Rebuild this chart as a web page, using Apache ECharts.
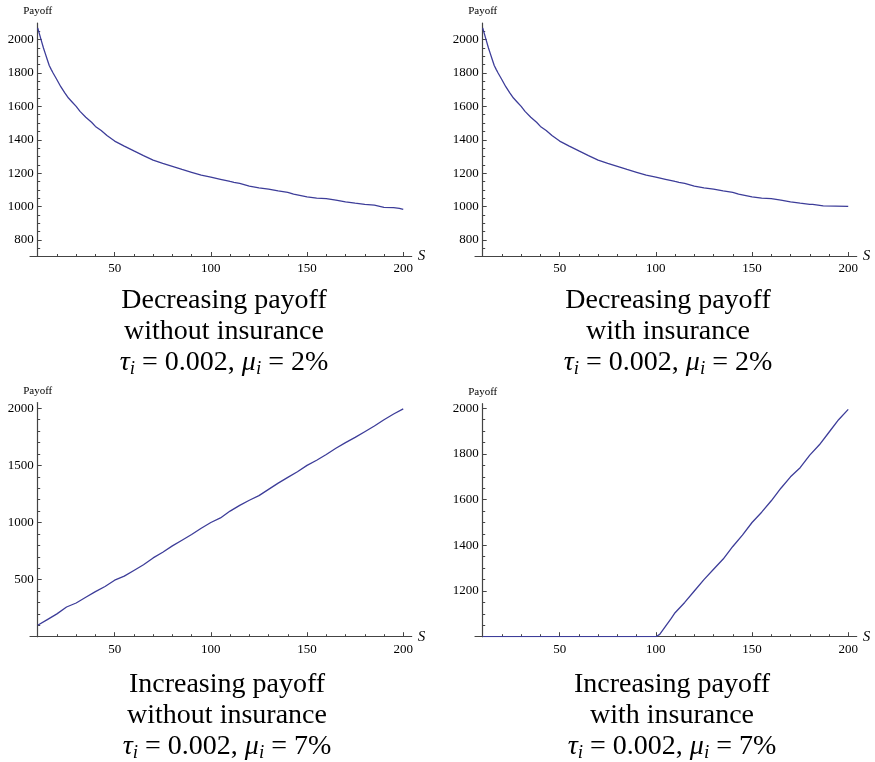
<!DOCTYPE html>
<html>
<head>
<meta charset="utf-8">
<script src="https://cdn.jsdelivr.net/npm/echarts@6/dist/echarts.min.js"></script>
<style>
html, body { margin: 0; padding: 0; background: #fff; }
#main { width: 875px; height: 762px; }
</style>
</head>
<body>
<div id="main"></div>
<script>
// 数据：S 与 Payoff
var decS = [10, 11, 12, 13, 14, 15, 16, 17, 18, 20, 22, 24, 26, 28, 30, 32, 35, 38, 40, 43, 46, 50, 55, 60, 65, 70, 75, 80, 85, 90, 95, 100, 105, 110, 112, 115, 120, 125, 130, 135, 140, 143, 150, 155, 160, 165, 170, 175, 180, 185, 190, 195, 198, 200];
var decPayNoIns = [2070, 2030, 1990, 1950, 1915, 1880, 1845, 1822, 1800, 1760, 1718, 1683, 1650, 1625, 1600, 1570, 1535, 1505, 1480, 1455, 1425, 1392, 1362, 1333, 1305, 1278, 1258, 1240, 1222, 1205, 1188, 1176, 1163, 1150, 1145, 1138, 1122, 1112, 1104, 1093, 1084, 1074, 1058, 1050, 1047, 1038, 1028, 1020, 1013, 1008, 995, 993, 988, 982];

var decInsS = [10, 11, 12, 13, 14, 15, 16, 17, 18, 20, 22, 24, 26, 28, 30, 32, 35, 38, 40, 43, 46, 50, 55, 60, 65, 70, 75, 80, 85, 90, 95, 100, 105, 110, 112, 115, 120, 125, 130, 135, 140, 143, 150, 155, 160, 165, 170, 175, 180, 181.5, 181.6, 187, 187.1, 200];
var decPayIns = [2070, 2030, 1990, 1950, 1915, 1880, 1845, 1822, 1800, 1760, 1718, 1683, 1650, 1625, 1600, 1570, 1535, 1505, 1480, 1455, 1425, 1392, 1362, 1333, 1305, 1278, 1258, 1240, 1222, 1205, 1188, 1176, 1163, 1150, 1145, 1138, 1122, 1112, 1104, 1093, 1084, 1074, 1058, 1050, 1047, 1038, 1028, 1020, 1013, 1012, 1005, 1004, 1000, 1000];

var incS = [10, 15, 20, 25, 30, 35, 40, 45, 50, 55, 60, 65, 70, 75, 80, 85, 90, 95, 100, 105, 110, 115, 120, 125, 130, 135, 140, 145, 150, 155, 160, 165, 170, 175, 180, 185, 190, 195, 200];
var incPayNoIns = [100, 150, 200, 260, 295, 345, 395, 440, 495, 530, 580, 630, 690, 740, 795, 845, 895, 950, 1000, 1040, 1100, 1150, 1195, 1235, 1290, 1345, 1395, 1445, 1500, 1545, 1595, 1650, 1700, 1745, 1795, 1845, 1900, 1950, 1995];

var incInsS = [10, 100, 102, 105, 108, 110, 115, 120, 125, 130, 135, 140, 145, 150, 155, 160, 165, 170, 175, 180, 185, 190, 195, 200];
var incPayIns = [1000, 1000, 1010, 1045, 1080, 1105, 1150, 1200, 1250, 1295, 1340, 1395, 1445, 1500, 1545, 1595, 1650, 1700, 1740, 1795, 1840, 1895, 1950, 1995];

// 刻度
var xTicks = [50, 100, 150, 200];
var yTicksDec = [800, 1000, 1200, 1400, 1600, 1800, 2000];
var yTicksInc = [500, 1000, 1500, 2000];
var yTicksIncIns = [1200, 1400, 1600, 1800, 2000];

var captions = [
    "Decreasing payoff\nwithout insurance\n{t|τ}{s|i} = 0.002, {t|μ}{s|i} = 2%",
    "Decreasing payoff\nwith insurance\n{t|τ}{s|i} = 0.002, {t|μ}{s|i} = 2%",
    "Increasing payoff\nwithout insurance\n{t|τ}{s|i} = 0.002, {t|μ}{s|i} = 7%",
    "Increasing payoff\nwith insurance\n{t|τ}{s|i} = 0.002, {t|μ}{s|i} = 7%"
];

var chart = echarts.init(document.getElementById("main"));

var lineColor = "#3d3d99";
var axisColor = "#444";
var serif = "Liberation Serif";
var xMin = 6, xMax = 204.4;

// 每个子图的位置
var panels = [
    {left: 30, top: 23, width: 381.7, height: 233.5, yMin: 700, yMax: 2100, yTicks: yTicksDec, yStep: 50, s: decS, v: decPayNoIns, cx: 219, cy: 280},
    {left: 475, top: 23, width: 381.7, height: 233.5, yMin: 700, yMax: 2100, yTicks: yTicksDec, yStep: 50, s: decInsS, v: decPayIns, cx: 663, cy: 280},
    {left: 30, top: 402.6, width: 381.7, height: 234.1, yMin: 0, yMax: 2050, yTicks: yTicksInc, yStep: 100, s: incS, v: incPayNoIns, cx: 222, cy: 664},
    {left: 475, top: 403.7, width: 381.7, height: 233, yMin: 1000, yMax: 2020, yTicks: yTicksIncIns, yStep: 50, s: incInsS, v: incPayIns, cx: 667, cy: 664}
];

var grid = [], xAxis = [], yAxis = [], series = [], title = [];

var xMinor = [];
for (var k = 20; k <= 200; k += 10) {
    if (k % 50 != 0) xMinor.push(k);
}

function plainNum(v) {
    return String(v);
}

for (var i = 0; i < panels.length; i++) {
    var p = panels[i];
    var yOff = -(10 - xMin) / (xMax - xMin) * p.width;
    grid.push({left: p.left, top: p.top, width: p.width, height: p.height});

    var yMinor = [];
    for (var m = p.yMin + p.yStep; m < p.yMax; m += p.yStep) {
        if (p.yTicks.indexOf(m) < 0) yMinor.push(m);
    }

    // 主 x 轴
    xAxis.push({
        type: "value", gridIndex: i, position: "bottom", min: xMin, max: xMax,
        name: "S", nameLocation: "end", nameGap: 6,
        nameTextStyle: {fontFamily: serif, fontStyle: "italic", fontSize: 15, color: "#000"},
        axisLine: {show: true, lineStyle: {color: axisColor, width: 1.2}},
        axisTick: {show: true, inside: true, length: 4.5, customValues: xTicks, lineStyle: {color: axisColor}},
        axisLabel: {customValues: xTicks, margin: 6, fontFamily: serif, fontSize: 13, color: "#000", formatter: plainNum},
        splitLine: {show: false}
    });
    // 次 x 轴（只画小刻度）
    xAxis.push({
        type: "value", gridIndex: i, position: "bottom", min: xMin, max: xMax,
        axisLine: {show: false},
        axisTick: {show: true, inside: true, length: 2.5, customValues: xMinor, lineStyle: {color: axisColor}},
        axisLabel: {show: false},
        splitLine: {show: false}
    });
    // 主 y 轴
    yAxis.push({
        type: "value", gridIndex: i, position: "left", min: p.yMin, max: p.yMax, offset: yOff,
        name: "Payoff", nameLocation: "end", nameGap: 6,
        nameTextStyle: {fontFamily: serif, fontSize: 11, color: "#000", align: "center"},
        axisLine: {show: true, lineStyle: {color: axisColor, width: 1.2}},
        axisTick: {show: true, inside: true, length: 4, customValues: p.yTicks, lineStyle: {color: axisColor}},
        axisLabel: {customValues: p.yTicks, margin: 4, fontFamily: serif, fontSize: 13, color: "#000", formatter: plainNum},
        splitLine: {show: false}
    });
    // 次 y 轴
    yAxis.push({
        type: "value", gridIndex: i, position: "left", min: p.yMin, max: p.yMax, offset: yOff,
        axisLine: {show: false},
        axisTick: {show: true, inside: true, length: 2.5, customValues: yMinor, lineStyle: {color: axisColor}},
        axisLabel: {show: false},
        splitLine: {show: false}
    });

    var data = [];
    for (var j = 0; j < p.s.length; j++) {
        data.push([p.s[j], p.v[j]]);
    }
    series.push({
        type: "line", xAxisIndex: 2 * i, yAxisIndex: 2 * i,
        data: data, showSymbol: false, silent: true, animation: false,
        lineStyle: {color: lineColor, width: 1.3}
    });

    title.push({
        text: captions[i], left: p.cx, top: p.cy, textAlign: "center",
        textStyle: {
            fontFamily: serif, fontSize: 28, fontWeight: "normal", color: "#000", lineHeight: 31,
            rich: {
                t: {fontFamily: serif, fontSize: 28, fontStyle: "italic", color: "#000", lineHeight: 31},
                s: {fontFamily: serif, fontSize: 19, fontStyle: "italic", color: "#000", lineHeight: 19, padding: [12, 0, 0, 0]}
            }
        }
    });
}

var option = {
    backgroundColor: "#fff",
    animation: false,
    title: title,
    grid: grid,
    xAxis: xAxis,
    yAxis: yAxis,
    series: series
};

chart.setOption(option);
</script>
</body>
</html>
